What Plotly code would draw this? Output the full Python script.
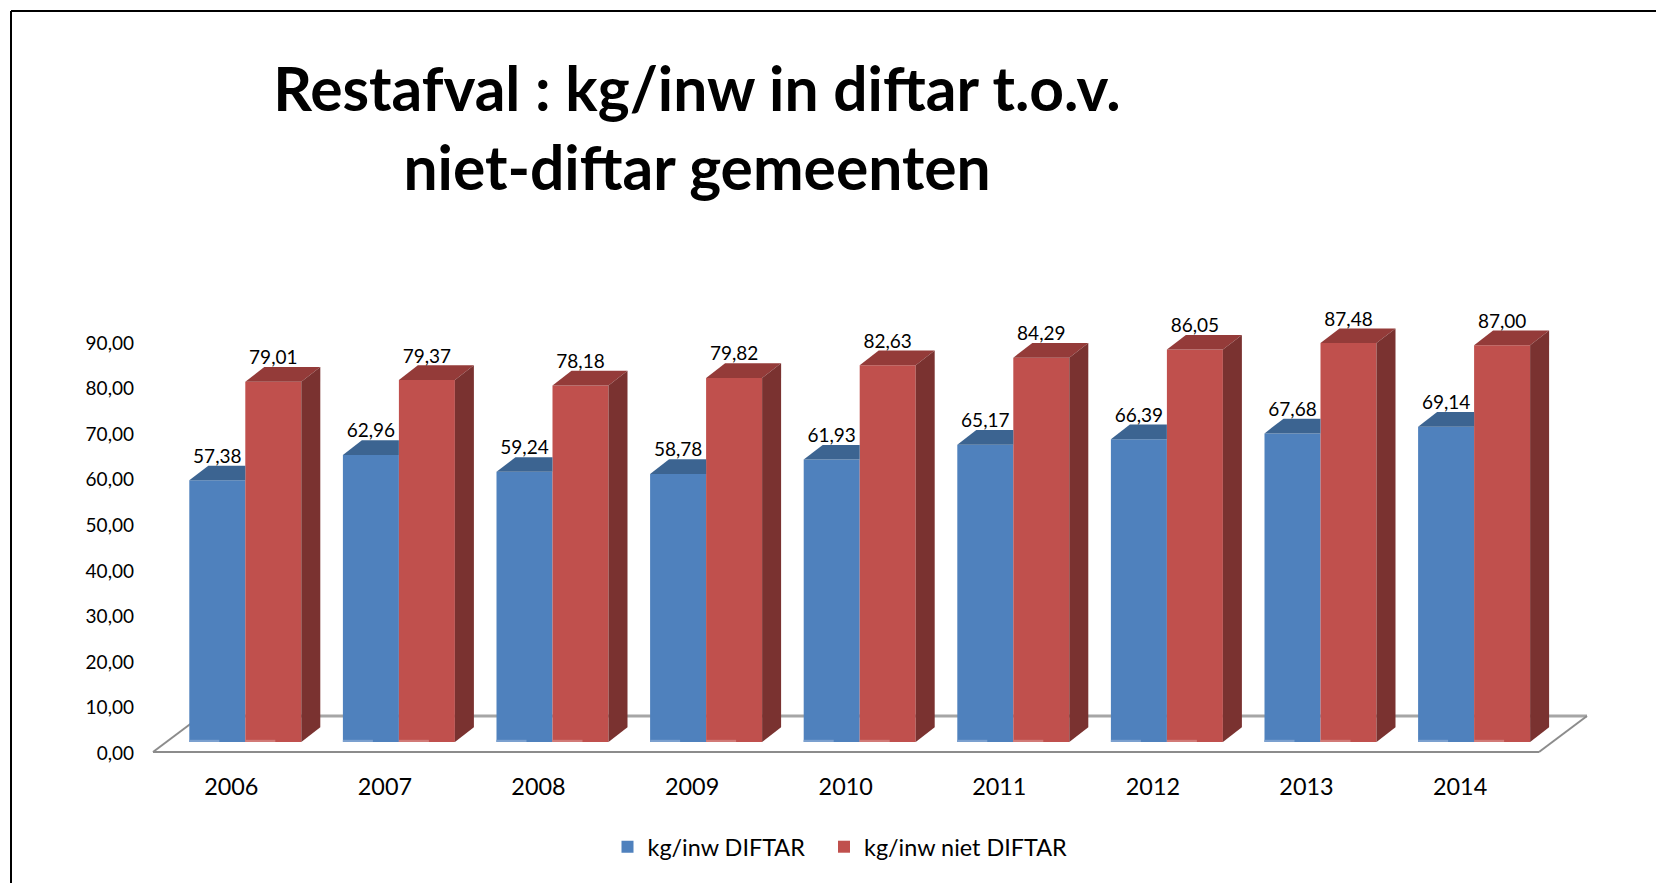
import plotly.graph_objects as go

# ---- data ----
years = ["2006", "2007", "2008", "2009", "2010", "2011", "2012", "2013", "2014"]
diftar = [57.38, 62.96, 59.24, 58.78, 61.93, 65.17, 66.39, 67.68, 69.14]
niet_diftar = [79.01, 79.37, 78.18, 79.82, 82.63, 84.29, 86.05, 87.48, 87.00]
y_ticks = [0, 10, 20, 30, 40, 50, 60, 70, 80, 90]
y_labels = ["0,00", "10,00", "20,00", "30,00", "40,00", "50,00", "60,00", "70,00", "80,00", "90,00"]
name_a = "kg/inw DIFTAR"
name_b = "kg/inw niet DIFTAR"

# ---- page geometry (pixels) ----
W, H = 1656, 883
PL, PR, PT, PB = 145, 1600, 290, 760      # plot box
BASE_Y = 742                               # pixel of value 0 on the bar fronts
PX_PER_UNIT = 4.56
FIRST_X = 245.3                            # pixel of the blue/red seam in group 0
PERIOD = 153.6
BAR_W = 56 / PERIOD
DX = 19 / PERIOD
DY = 14.7 / PX_PER_UNIT
LABEL_UP = 22.3 / PX_PER_UNIT
TICK_DROP = 2.5
FLOOR_DROP = 10 / PX_PER_UNIT
CAT_SHIFT = -14 / PERIOD

C_BLUE, C_BLUE_TOP, C_BLUE_LITE = "#4F81BD", "#3C6491", "#7BA0CF"
C_RED, C_RED_TOP, C_RED_SIDE, C_RED_LITE = "#C0504D", "#943B39", "#7A3230", "#D27A77"
FONT = "Lato"

xr = [(PL - FIRST_X) / PERIOD, (PR - FIRST_X) / PERIOD]
yr = [(BASE_Y - PB) / PX_PER_UNIT, (BASE_Y - PT) / PX_PER_UNIT]
px = lambda x: (x - PL) / (PR - PL)
py = lambda y: (PB - y) / (PB - PT)

fig = go.Figure()
idx = list(range(len(years)))

# native bars for the front faces
fig.add_trace(go.Bar(x=idx, y=diftar, width=BAR_W, offset=-BAR_W, marker=dict(color=C_BLUE, line_width=0),
                     name=name_a, hoverinfo="skip", legend="legend"))
fig.add_trace(go.Bar(x=idx, y=niet_diftar, width=BAR_W, offset=0, marker=dict(color=C_RED, line_width=0),
                     name=name_b, hoverinfo="skip", legend="legend2"))


def poly(xs, ys, color):
    fig.add_trace(go.Scatter(x=xs + xs[:1], y=ys + ys[:1], mode="lines", fill="toself", fillcolor=color,
                             line=dict(width=0, color=color), showlegend=False, hoverinfo="skip"))


STRIP = 2.2 / PX_PER_UNIT
for i, a, b in zip(idx, diftar, niet_diftar):
    # blue top, stopped at the red front face
    poly([i - BAR_W, i - BAR_W + DX, i, i], [a, a + DY, a + DY, a], C_BLUE_TOP)
    # red top and side
    poly([i, i + DX, i + BAR_W + DX, i + BAR_W], [b, b + DY, b + DY, b], C_RED_TOP)
    poly([i + BAR_W, i + BAR_W + DX, i + BAR_W + DX, i + BAR_W], [b, b + DY, DY, 0], C_RED_SIDE)
    # pale strip along the foot of each front face
    poly([i - BAR_W, i - BAR_W / 2 + 2 / PERIOD, i - BAR_W / 2 + 2 / PERIOD, i - BAR_W], [0, 0, STRIP, STRIP], C_BLUE_LITE)
    poly([i, i + BAR_W / 2 + 2 / PERIOD, i + BAR_W / 2 + 2 / PERIOD, i], [0, 0, STRIP, STRIP], C_RED_LITE)

# data labels
fmt = lambda v: f"{v:.2f}".replace(".", ",")
fig.add_trace(go.Scatter(x=[i - BAR_W / 2 for i in idx], y=[v + LABEL_UP for v in diftar], mode="text",
                         text=[fmt(v) for v in diftar], textposition="middle center",
                         textfont=dict(family=FONT, size=19, color="#000000"), showlegend=False, hoverinfo="skip"))
fig.add_trace(go.Scatter(x=[i + BAR_W / 2 for i in idx], y=[v + LABEL_UP for v in niet_diftar], mode="text",
                         text=[fmt(v) for v in niet_diftar], textposition="middle center",
                         textfont=dict(family=FONT, size=19, color="#000000"), showlegend=False, hoverinfo="skip"))

# floor
left_front = xr[0] + (153 - PL) / PERIOD
right_front = xr[0] + (1539 - PL) / PERIOD
depth_x = 48 / PERIOD
depth_y = 36 / PX_PER_UNIT
shapes = [
    dict(type="line", xref="x", yref="y", layer="below", x0=left_front + depth_x, x1=right_front + depth_x,
         y0=-FLOOR_DROP + depth_y, y1=-FLOOR_DROP + depth_y, line=dict(color="#A6A6A6", width=3)),
    dict(type="line", xref="x", yref="y", layer="below", x0=left_front, x1=left_front + depth_x,
         y0=-FLOOR_DROP, y1=-FLOOR_DROP + depth_y, line=dict(color="#8C8C8C", width=2)),
    dict(type="line", xref="x", yref="y", layer="below", x0=right_front, x1=right_front + depth_x,
         y0=-FLOOR_DROP, y1=-FLOOR_DROP + depth_y, line=dict(color="#8C8C8C", width=2)),
    dict(type="line", xref="x", yref="y", layer="below", x0=left_front, x1=right_front,
         y0=-FLOOR_DROP, y1=-FLOOR_DROP, line=dict(color="#8C8C8C", width=2)),
    # page frame: left and top only, the top rule runs off the right edge
    dict(type="line", xref="paper", yref="paper", x0=px(11), x1=px(11), y0=py(883), y1=py(11), line=dict(color="#000000", width=2)),
    dict(type="line", xref="paper", yref="paper", x0=px(11), x1=px(1656), y0=py(11), y1=py(11), line=dict(color="#000000", width=2)),
]

legend_style = dict(orientation="h", xanchor="left", yanchor="middle", xref="paper", yref="paper",
                    font=dict(family=FONT, size=23.4, color="#000000"),
                    bgcolor="rgba(0,0,0,0)", itemclick=False, itemdoubleclick=False)

fig.update_layout(
    width=W, height=H, autosize=False,
    margin=dict(l=PL, r=W - PR, t=PT, b=H - PB, pad=0),
    paper_bgcolor="#FFFFFF", plot_bgcolor="rgba(0,0,0,0)",
    barmode="overlay", shapes=shapes,
    font=dict(family=FONT, color="#000000"),
    title=dict(text="Restafval : kg/inw in diftar t.o.v.<br>niet-diftar gemeenten",
               x=697 / W, xanchor="center", xref="container", y=1 - 111 / H, yanchor="middle", yref="container",
               font=dict(family=FONT, size=60.5, color="#000000", weight="bold")),
    xaxis=dict(range=xr, tickmode="array", tickvals=[i + CAT_SHIFT for i in idx], ticktext=years,
               showgrid=False, zeroline=False, showline=False, ticks="", ticklabelstandoff=11,
               tickfont=dict(family=FONT, size=23.4, color="#000000")),
    yaxis=dict(range=yr, tickmode="array", tickvals=[t - TICK_DROP for t in y_ticks], ticktext=y_labels,
               showgrid=False, zeroline=False, showline=False, ticks="", ticklabelstandoff=10,
               tickfont=dict(family=FONT, size=19, color="#000000")),
    legend=dict(x=px(607.5), y=py(847), **legend_style),
    legend2=dict(x=px(824), y=py(847), **legend_style),
    showlegend=True,
)

fig.write_html("out.html", config=dict(displayModeBar=False),
               post_script="document.body.style.margin='0';document.body.style.overflow='hidden';")
